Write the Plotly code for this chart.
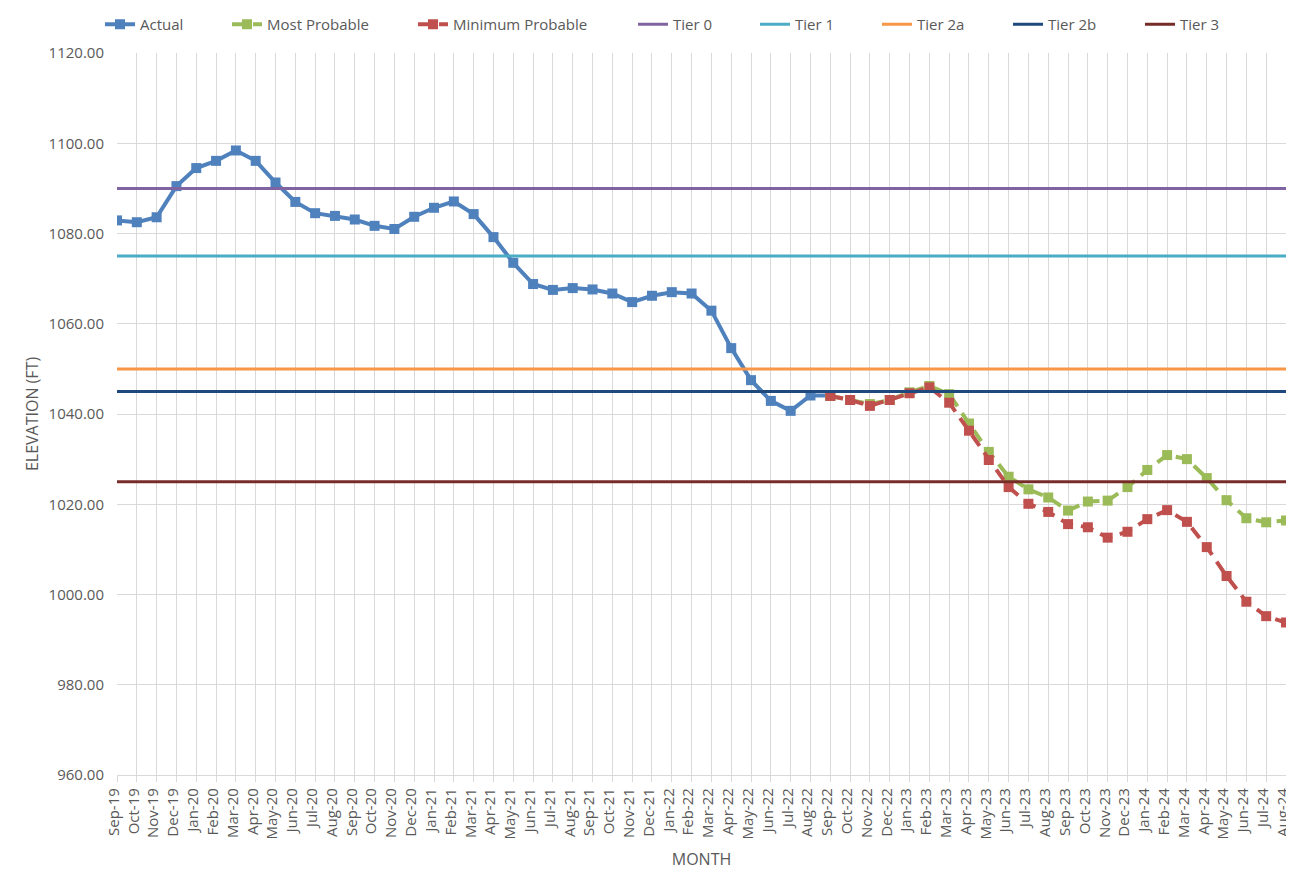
import plotly.graph_objects as go

months = ["Sep-19","Oct-19","Nov-19","Dec-19","Jan-20","Feb-20","Mar-20","Apr-20","May-20","Jun-20",
          "Jul-20","Aug-20","Sep-20","Oct-20","Nov-20","Dec-20","Jan-21","Feb-21","Mar-21","Apr-21",
          "May-21","Jun-21","Jul-21","Aug-21","Sep-21","Oct-21","Nov-21","Dec-21","Jan-22","Feb-22",
          "Mar-22","Apr-22","May-22","Jun-22","Jul-22","Aug-22","Sep-22","Oct-22","Nov-22","Dec-22",
          "Jan-23","Feb-23","Mar-23","Apr-23","May-23","Jun-23","Jul-23","Aug-23","Sep-23","Oct-23",
          "Nov-23","Dec-23","Jan-24","Feb-24","Mar-24","Apr-24","May-24","Jun-24","Jul-24","Aug-24"]

actual = [1082.9, 1082.5, 1083.6, 1090.5, 1094.5, 1096.1, 1098.4, 1096.1, 1091.3, 1087.0,
          1084.5, 1083.9, 1083.1, 1081.7, 1081.0, 1083.7, 1085.7, 1087.1, 1084.3, 1079.2,
          1073.5, 1068.8, 1067.5, 1067.9, 1067.6, 1066.7, 1064.8, 1066.2, 1067.0, 1066.7,
          1062.9, 1054.6, 1047.5, 1042.9, 1040.7, 1044.1, 1044.1]

forecast_months = months[36:]
most_probable = [1044.0, 1043.1, 1042.2, 1043.1, 1044.8, 1046.2, 1044.4, 1037.9, 1031.6, 1026.1,
                 1023.3, 1021.5, 1018.6, 1020.6, 1020.8, 1023.8, 1027.6, 1030.9, 1030.0, 1025.8,
                 1020.9, 1016.9, 1016.0, 1016.4]
minimum_probable = [1044.0, 1043.1, 1041.8, 1043.1, 1044.6, 1045.9, 1042.5, 1036.3, 1029.8, 1023.8,
                    1020.1, 1018.3, 1015.6, 1014.9, 1012.6, 1013.9, 1016.7, 1018.7, 1016.1, 1010.5,
                    1004.1, 998.4, 995.2, 993.8]

tier_names = ["Tier 0", "Tier 1", "Tier 2a", "Tier 2b", "Tier 3"]
tier_levels = [1090, 1075, 1050, 1045, 1025]
tier_colors = ["#8064A2", "#4BACC6", "#F79646", "#1F497D", "#772C2A"]

y_ticks = [960, 980, 1000, 1020, 1040, 1060, 1080, 1100, 1120]

FONT = "Open Sans"
GRAY = "#595959"
GRID = "#d9d9d9"
# the page body adds an 8px offset, so the figure is sized/placed accordingly
W, H = 1286, 864
ML, MR, MT, MB = 109, 8, 45, 97
PW, PH = W - ML - MR, H - MT - MB

# legend entry placement (left pixel of each legend box, figure coords)
legend_px = [92, 219, 405, 625, 747, 869, 1000, 1132]
legend_ids = ["legend"] + ["legend%d" % i for i in range(2, 9)]

fig = go.Figure()
fig.add_trace(go.Scatter(x=months[:len(actual)], y=actual, name="Actual", mode="lines+markers",
                         line=dict(color="#4F81BD", width=4),
                         marker=dict(symbol="square", size=10, color="#4F81BD")))
fig.add_trace(go.Scatter(x=forecast_months, y=most_probable, name="Most Probable", mode="lines+markers",
                         line=dict(color="#9BBB59", width=4, dash="13px,8px"),
                         marker=dict(symbol="square", size=10, color="#9BBB59")))
fig.add_trace(go.Scatter(x=forecast_months, y=minimum_probable, name="Minimum Probable", mode="lines+markers",
                         line=dict(color="#C0504D", width=4, dash="13px,8px"),
                         marker=dict(symbol="square", size=10, color="#C0504D")))
for name, lvl, col in zip(tier_names, tier_levels, tier_colors):
    fig.add_trace(go.Scatter(x=months, y=[lvl] * len(months), name=name, mode="lines",
                             line=dict(color=col, width=3)))

legend_layout = {}
for tr, lid, px in zip(fig.data, legend_ids, legend_px):
    tr.legend = lid
    legend_layout[lid] = dict(x=(px - ML) / PW, xanchor="left",
                              y=1 + MT / PH, yanchor="top",
                              orientation="h", bgcolor="rgba(0,0,0,0)",
                              font=dict(family=FONT, size=15, color=GRAY))

fig.update_layout(
    width=W, height=H,
    margin=dict(l=ML, r=MR, t=MT, b=MB, autoexpand=False),
    paper_bgcolor="white", plot_bgcolor="white",
    font=dict(family=FONT, size=15, color=GRAY),
    showlegend=True,
    xaxis=dict(type="category", categoryorder="array", categoryarray=months,
               range=[0, len(months) - 1], tickangle=-90,
               showgrid=True, gridcolor=GRID, gridwidth=1.3,
               ticks="outside", ticklen=6, tickcolor=GRID,
               showline=True, linecolor=GRID, linewidth=1.3,
               ticklabelshift=-3,
               tickfont=dict(size=15, color=GRAY), automargin=False,
               title=dict(text="MONTH", font=dict(size=16, color=GRAY), standoff=15),
               zeroline=False),
    yaxis=dict(range=[960, 1120], tickvals=y_ticks, tickformat=".2f",
               showgrid=True, gridcolor=GRID, gridwidth=1.3,
               ticks="", zeroline=False, showline=False, ticklabelstandoff=12,
               tickfont=dict(size=15, color=GRAY), automargin=False,
               title=dict(text="ELEVATION (FT)", font=dict(size=16, color=GRAY), standoff=5)),
    **legend_layout,
)

fig.write_html("out.html")
